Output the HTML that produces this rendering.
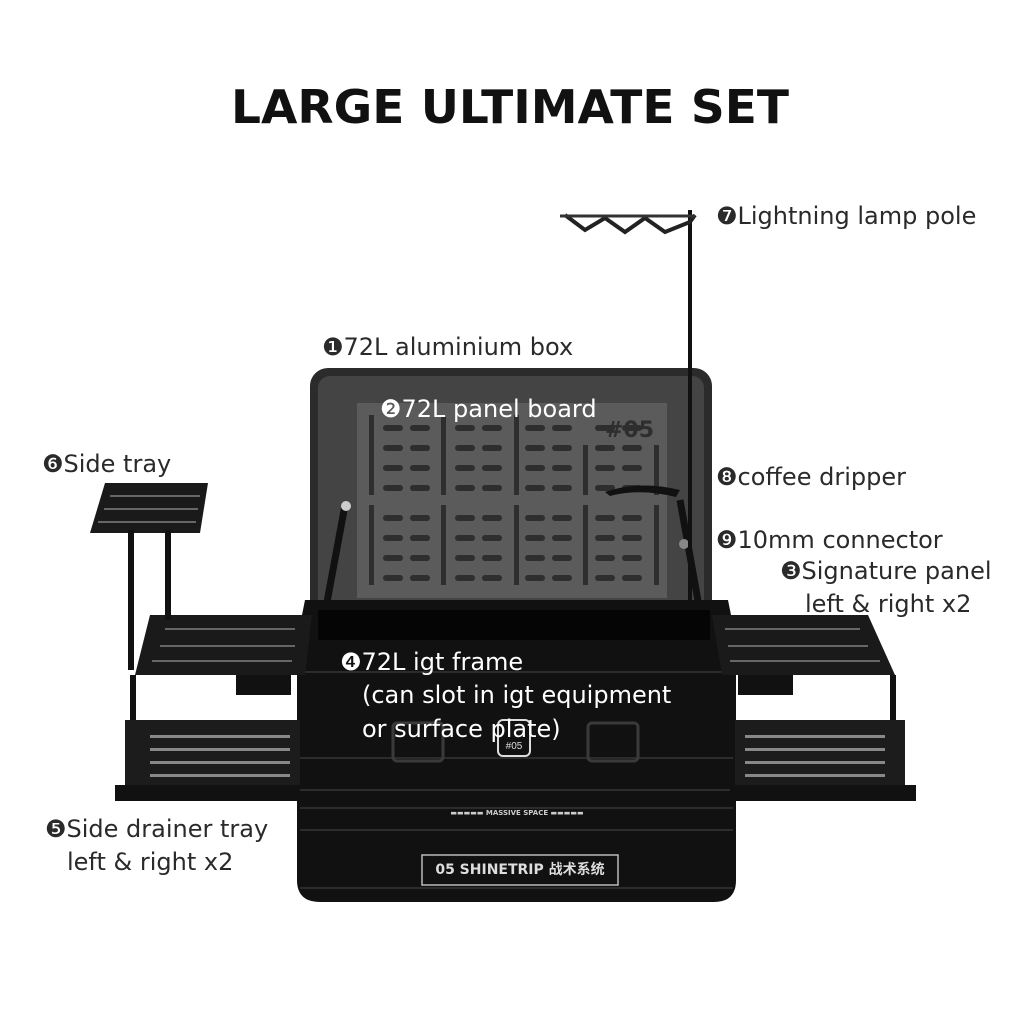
<!DOCTYPE html>
<html><head><style>
body{margin:0;background:#fff;}
svg{display:block}
.t{font-family:"DejaVu Sans","Liberation Sans",sans-serif;font-size:24px;fill:#2a2a2a;}
.w{fill:#fff}
</style></head><body>
<svg width="1024" height="1024" viewBox="0 0 1024 1024" xmlns="http://www.w3.org/2000/svg">
<rect width="1024" height="1024" fill="#fff"/>
<text x="510" y="123" text-anchor="middle" font-family="'DejaVu Sans','Liberation Sans',sans-serif" font-weight="bold" font-size="46" fill="#111" textLength="558" lengthAdjust="spacingAndGlyphs">LARGE ULTIMATE SET</text>

<!-- lid -->
<rect x="310" y="368" width="402" height="250" rx="18" fill="#2b2b2b"/>
<rect x="318" y="376" width="386" height="240" rx="12" fill="#444"/>
<rect x="357" y="403" width="310" height="195" fill="#5b5b5b"/>
<g fill="#2e2e2e">
<rect x="369" y="415" width="5" height="80"/><rect x="441" y="415" width="5" height="80"/><rect x="514" y="415" width="5" height="80"/><rect x="583" y="445" width="5" height="50"/><rect x="654" y="445" width="5" height="50"/>
<rect x="369" y="505" width="5" height="80"/><rect x="441" y="505" width="5" height="80"/><rect x="514" y="505" width="5" height="80"/><rect x="583" y="505" width="5" height="80"/><rect x="654" y="505" width="5" height="80"/>
</g>
<g fill="#2e2e2e" id="holes">
<rect x="383" y="425" width="20" height="6" rx="3"/><rect x="410" y="425" width="20" height="6" rx="3"/>
<rect x="383" y="445" width="20" height="6" rx="3"/><rect x="410" y="445" width="20" height="6" rx="3"/>
<rect x="383" y="465" width="20" height="6" rx="3"/><rect x="410" y="465" width="20" height="6" rx="3"/>
<rect x="383" y="485" width="20" height="6" rx="3"/><rect x="410" y="485" width="20" height="6" rx="3"/>
<rect x="383" y="515" width="20" height="6" rx="3"/><rect x="410" y="515" width="20" height="6" rx="3"/>
<rect x="383" y="535" width="20" height="6" rx="3"/><rect x="410" y="535" width="20" height="6" rx="3"/>
<rect x="383" y="555" width="20" height="6" rx="3"/><rect x="410" y="555" width="20" height="6" rx="3"/>
<rect x="383" y="575" width="20" height="6" rx="3"/><rect x="410" y="575" width="20" height="6" rx="3"/>
</g>
<use href="#holes" x="72"/><use href="#holes" x="142"/><use href="#holes" x="212"/>
<text x="605" y="437" font-family="'DejaVu Sans',sans-serif" font-weight="bold" font-size="22" fill="#2e2e2e">#05</text>
<line x1="345" y1="505" x2="320" y2="640" stroke="#111" stroke-width="7"/>
<line x1="680" y1="500" x2="705" y2="640" stroke="#111" stroke-width="7"/>
<circle cx="346" cy="506" r="5" fill="#ccc"/><circle cx="684" cy="544" r="5" fill="#888"/>
<path d="M605 492 Q640 480 680 490 L676 497 Q640 488 610 496Z" fill="#111"/>

<!-- lamp pole -->
<line x1="690" y1="210" x2="690" y2="625" stroke="#111" stroke-width="4"/>
<polyline points="565,215 585,230 605,218 625,232 645,218 665,232 690,222 695,215" fill="none" stroke="#222" stroke-width="4"/>
<line x1="560" y1="216" x2="695" y2="216" stroke="#333" stroke-width="3"/>

<!-- body -->
<path d="M305 600 H728 L736 640 V880 Q736 902 714 902 H320 Q297 902 297 880 V640Z" fill="#111"/>
<rect x="318" y="610" width="392" height="30" fill="#050505"/>
<g stroke="#2c2c2c" stroke-width="2">
<line x1="300" y1="672" x2="733" y2="672"/><line x1="300" y1="758" x2="733" y2="758"/><line x1="300" y1="790" x2="733" y2="790"/><line x1="300" y1="808" x2="733" y2="808"/><line x1="300" y1="830" x2="733" y2="830"/><line x1="300" y1="888" x2="733" y2="888"/>
</g>
<rect x="393" y="723" width="50" height="38" rx="4" fill="none" stroke="#3a3a3a" stroke-width="3"/>
<rect x="588" y="723" width="50" height="38" rx="4" fill="none" stroke="#3a3a3a" stroke-width="3"/>
<rect x="498" y="720" width="32" height="36" rx="5" fill="#111" stroke="#ddd" stroke-width="2"/>
<text x="514" y="749" text-anchor="middle" font-family="'Liberation Sans',sans-serif" font-size="10" fill="#ddd">#05</text>
<text x="517" y="815" text-anchor="middle" font-family="'DejaVu Sans',sans-serif" font-weight="bold" font-size="7" fill="#ccc">▬▬▬▬▬  MASSIVE SPACE  ▬▬▬▬▬</text>
<rect x="422" y="855" width="196" height="30" fill="none" stroke="#bbb" stroke-width="1.5"/>
<text x="520" y="874" text-anchor="middle" font-family="'DejaVu Sans','Noto Sans CJK SC',sans-serif" font-weight="bold" font-size="14" fill="#ddd">05 SHINETRIP 战术系统</text>

<!-- left side -->
<path d="M150 615 H312 L305 675 H135Z" fill="#1a1a1a"/>
<g fill="#666"><rect x="165" y="628" width="130" height="2"/><rect x="160" y="645" width="135" height="2"/><rect x="152" y="660" width="140" height="2"/></g>
<rect x="130" y="675" width="6" height="115" fill="#111"/>
<rect x="115" y="785" width="185" height="16" fill="#111"/>
<path d="M125 720 H300 V785 H125Z" fill="#1c1c1c"/>
<g fill="#888"><rect x="150" y="735" width="140" height="3"/><rect x="150" y="748" width="140" height="3"/><rect x="150" y="761" width="140" height="3"/><rect x="150" y="774" width="140" height="3"/></g>
<rect x="236" y="675" width="55" height="20" fill="#111"/>
<!-- side tray -->
<path d="M105 483 H208 L200 533 H90Z" fill="#1a1a1a"/>
<g fill="#666"><rect x="110" y="495" width="90" height="2"/><rect x="104" y="508" width="94" height="2"/><rect x="98" y="521" width="98" height="2"/></g>
<rect x="128" y="530" width="6" height="140" fill="#111"/><rect x="165" y="530" width="6" height="90" fill="#111"/>

<!-- right side -->
<path d="M712 615 H868 L895 675 H722Z" fill="#1a1a1a"/>
<g fill="#666"><rect x="725" y="628" width="135" height="2"/><rect x="728" y="645" width="140" height="2"/><rect x="730" y="660" width="150" height="2"/></g>
<rect x="890" y="675" width="6" height="115" fill="#111"/>
<rect x="730" y="785" width="186" height="16" fill="#111"/>
<path d="M735 720 H905 V785 H735Z" fill="#1c1c1c"/>
<g fill="#888"><rect x="745" y="735" width="140" height="3"/><rect x="745" y="748" width="140" height="3"/><rect x="745" y="761" width="140" height="3"/><rect x="745" y="774" width="140" height="3"/></g>
<rect x="738" y="675" width="55" height="20" fill="#111"/>

<!-- labels -->
<text class="t" x="716" y="224">❼Lightning lamp pole</text>
<text class="t" x="322" y="355">❶72L aluminium box</text>
<text class="t w" x="380" y="417">❷72L panel board</text>
<text class="t" x="42" y="472">❻Side tray</text>
<text class="t" x="716" y="485">❽coffee dripper</text>
<text class="t" x="716" y="548">❾10mm connector</text>
<text class="t" x="780" y="579">❸Signature panel</text>
<text class="t" x="805" y="612">left &amp; right x2</text>
<text class="t w" x="340" y="670">❹72L igt frame</text>
<text class="t w" x="362" y="703">(can slot in igt equipment</text>
<text class="t w" x="362" y="737">or surface    plate)</text>
<text class="t" x="45" y="837">❺Side drainer tray</text>
<text class="t" x="67" y="870">left &amp; right x2</text>
</svg>
</body></html>
